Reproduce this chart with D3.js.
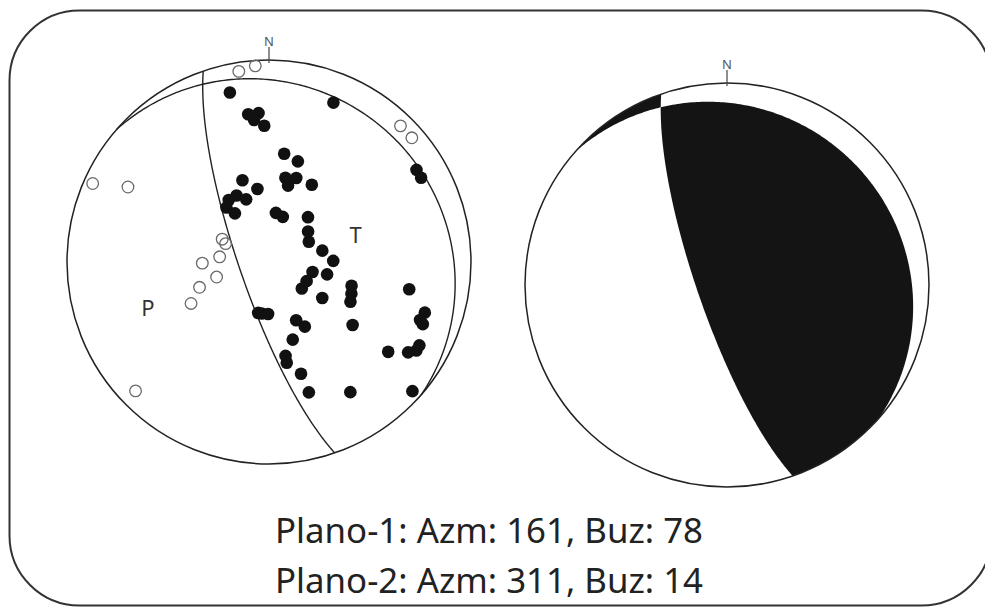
<!DOCTYPE html>
<html>
<head>
<meta charset="utf-8">
<script src="https://cdn.jsdelivr.net/npm/d3@7"></script>
<style>
  html, body { margin: 0; padding: 0; background: #fff; }
  svg { display: block; }
</style>
</head>
<body>
<svg id="chart" width="985" height="607"></svg>
<script>
// Nodal planes: strike azimuth and dip (degrees)
const planeNames = ["Plano-1", "Plano-2"];
const planeAzimuths = [161, 311];
const planeDips = [78, 14];

// Compressional first motions: ray trend / plunge (lower hemisphere)
const compTrend = [347, 352, 356, 354, 358, 22, 8, 16, 11, 18, 14, 29, 351, 342, 327, 334, 340, 322, 325,
  8, 17, 41, 52, 63, 78, 89, 103, 102, 117, 129, 124, 106, 111, 116, 101, 108, 111, 112,
  192, 188, 181, 155, 151, 163, 170, 170, 164, 127, 127, 123, 121, 119, 163, 148, 132, 58, 61];
const compPlunge = [15, 27, 27, 30, 33, 16, 45, 47, 55, 54, 58, 54, 60, 55, 60, 60, 63, 62, 66,
  70, 71, 66, 70, 72, 68, 64, 72, 66, 73, 73, 64, 55, 54, 53, 30, 20, 21, 19,
  69, 69, 69, 64, 60, 57, 51, 48, 42, 47, 27, 19, 16, 16, 33, 25, 5, 15, 15];

// Dilatational first motions
const dilTrend = [351, 356, 294, 298, 296, 293, 276, 269, 254, 250, 242, 226, 44, 49];
const dilPlunge = [5, 3, 5, 22, 69, 71, 70, 63, 68, 60, 54, 9, 7, 7];

// Pressure / tension axis labels
const axisLabels = ["P", "T"];
const axisTrend = [249, 73];
const axisPlunge = [36, 53];

const svg = d3.select("#chart");
const rad = Math.PI / 180;
const ink = "#222";

// Frame
svg.append("rect")
  .attr("x", 9.5).attr("y", 10.5)
  .attr("width", 982).attr("height", 595)
  .attr("rx", 70).attr("ry", 70)
  .attr("fill", "#fff").attr("stroke", "#333").attr("stroke-width", 2);

// Schmidt (equal-area) lower-hemisphere projection to unit-net coordinates
function toNet(trend, plunge) {
  const rho = Math.SQRT2 * Math.sin((90 - plunge) / 2 * rad);
  return [rho * Math.sin(trend * rad), rho * Math.cos(trend * rad)];
}

function makeNet(cx, cy, R) {
  const x = d3.scaleLinear().domain([-1, 1]).range([cx - R, cx + R]);
  const y = d3.scaleLinear().domain([-1, 1]).range([cy + R, cy - R]);
  const proj = (t, p) => { const [e, n] = toNet(t, p); return [x(e), y(n)]; };
  return { cx, cy, R, x, y, proj };
}

// Great circle of a plane as trend/plunge samples, from strike to strike+180
function greatCircle(strike, dip, n = 240) {
  const s = strike * rad, d = dip * rad, dd = s + Math.PI / 2;
  const pts = [];
  for (let i = 0; i <= n; i++) {
    const a = i / n * Math.PI;
    const e = Math.cos(a) * Math.sin(s) + Math.sin(a) * Math.cos(d) * Math.sin(dd);
    const nn = Math.cos(a) * Math.cos(s) + Math.sin(a) * Math.cos(d) * Math.cos(dd);
    const dn = Math.sin(a) * Math.sin(d);
    pts.push([Math.atan2(e, nn) / rad, Math.asin(Math.max(-1, Math.min(1, dn))) / rad]);
  }
  return pts;
}

// Primitive arc from trend a to trend b (degrees, may decrease)
function rimArc(a, b, n = 180) {
  return d3.range(n + 1).map(i => [a + (b - a) * i / n, 0]);
}

const line = net => d3.line().x(d => net.proj(d[0], d[1])[0]).y(d => net.proj(d[0], d[1])[1]);

function northMark(net) {
  const top = net.cy - net.R;
  svg.append("line")
    .attr("x1", net.cx).attr("x2", net.cx)
    .attr("y1", top - 13).attr("y2", top + 3)
    .attr("stroke", "#444").attr("stroke-width", 1.2);
  svg.append("text")
    .attr("x", net.cx).attr("y", top - 14)
    .attr("text-anchor", "middle")
    .attr("font-family", "Noto Sans, sans-serif")
    .attr("font-size", 13).attr("fill", "#555")
    .text("N");
}

// ---------- Left: polarity net ----------
const netA = makeNet(269, 262, 202);
const gA = svg.append("g");

gA.append("circle")
  .attr("cx", netA.cx).attr("cy", netA.cy).attr("r", netA.R)
  .attr("fill", "none").attr("stroke", ink).attr("stroke-width", 1.5);

planeAzimuths.forEach((az, i) => {
  gA.append("path")
    .attr("d", line(netA)(greatCircle(az, planeDips[i])))
    .attr("fill", "none").attr("stroke", ink).attr("stroke-width", 1.4);
});

gA.selectAll("circle.dil")
  .data(d3.range(dilTrend.length))
  .join("circle").attr("class", "dil")
  .attr("cx", i => netA.proj(dilTrend[i], dilPlunge[i])[0])
  .attr("cy", i => netA.proj(dilTrend[i], dilPlunge[i])[1])
  .attr("r", 5.8)
  .attr("fill", "none").attr("stroke", "#6a6a6a").attr("stroke-width", 1.3);

gA.selectAll("circle.comp")
  .data(d3.range(compTrend.length))
  .join("circle").attr("class", "comp")
  .attr("cx", i => netA.proj(compTrend[i], compPlunge[i])[0])
  .attr("cy", i => netA.proj(compTrend[i], compPlunge[i])[1])
  .attr("r", 6.3)
  .attr("fill", "#111");

gA.selectAll("text.axis")
  .data(axisLabels)
  .join("text").attr("class", "axis")
  .attr("x", (d, i) => netA.proj(axisTrend[i], axisPlunge[i])[0])
  .attr("y", (d, i) => netA.proj(axisTrend[i], axisPlunge[i])[1])
  .attr("dy", "0.36em")
  .attr("text-anchor", "middle")
  .attr("font-family", "Noto Sans, sans-serif")
  .attr("font-size", 22).attr("fill", "#333")
  .text(d => d);

northMark(netA);

// ---------- Right: focal mechanism ----------
const netB = makeNet(727, 285, 202);
const gB = svg.append("g");
const lnB = line(netB);

const gc1 = greatCircle(planeAzimuths[0], planeDips[0]);
const gc2 = greatCircle(planeAzimuths[1], planeDips[1]);
const s1 = planeAzimuths[0], s2 = planeAzimuths[1];

// Sides of plane 1 (east / west of its trace) and plane 2 (centre / rim side)
const east1 = gc1.concat(rimArc(s1 + 180, s1 + 360));
const west1 = gc1.concat(rimArc(s1 + 180, s1));
const rim2 = gc2.concat(rimArc(s2 + 180, s2));
const centre2 = gc2.concat(rimArc(s2 + 180, s2 + 360));

const defs = svg.append("defs");
defs.append("clipPath").attr("id", "clipCentre2")
  .append("path").attr("d", lnB(centre2) + "Z");
defs.append("clipPath").attr("id", "clipRim2")
  .append("path").attr("d", lnB(rim2) + "Z");

const black = "#141414";
gB.append("path").attr("d", lnB(east1) + "Z")
  .attr("fill", black).attr("clip-path", "url(#clipCentre2)");
gB.append("path").attr("d", lnB(west1) + "Z")
  .attr("fill", black).attr("clip-path", "url(#clipRim2)");

gB.append("circle")
  .attr("cx", netB.cx).attr("cy", netB.cy).attr("r", netB.R)
  .attr("fill", "none").attr("stroke", ink).attr("stroke-width", 1.5);

northMark(netB);

// ---------- Plane parameters ----------
svg.selectAll("text.plane")
  .data(planeNames)
  .join("text").attr("class", "plane")
  .attr("x", 275)
  .attr("y", (d, i) => 543 + i * 50)
  .attr("font-family", "Noto Sans, sans-serif")
  .attr("font-size", 35).attr("fill", "#222")
  .attr("textLength", 428).attr("lengthAdjust", "spacingAndGlyphs")
  .text((d, i) => `${d}: Azm: ${planeAzimuths[i]}, Buz: ${planeDips[i]}`);
</script>
</body>
</html>
